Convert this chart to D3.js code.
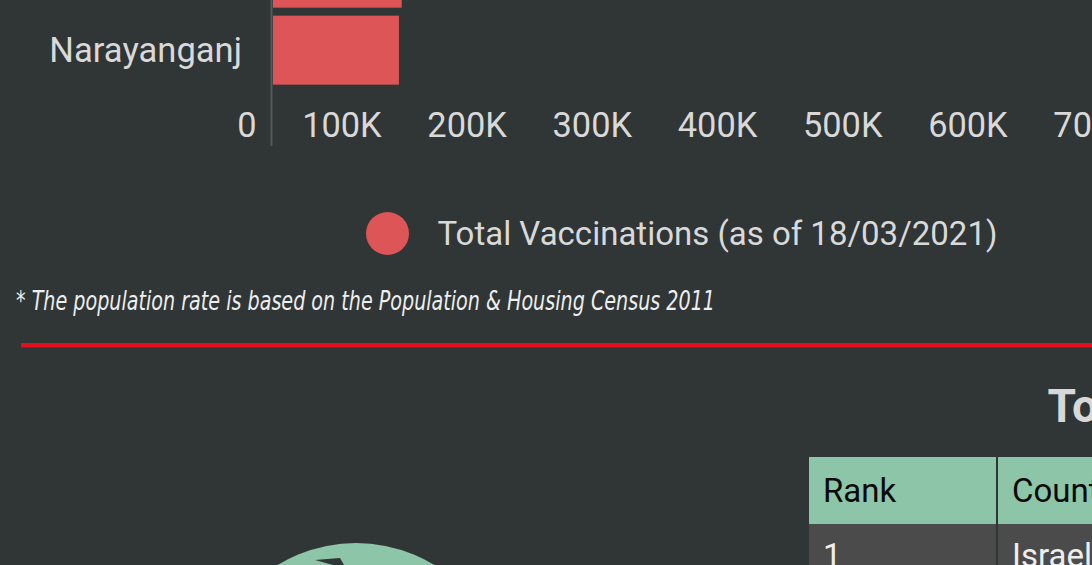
<!DOCTYPE html>
<html>
<head>
<meta charset="utf-8">
<script src="https://cdn.jsdelivr.net/npm/d3@7"></script>
<style>
  html, body { margin: 0; padding: 0; background: #303536; overflow: hidden; }
  svg { display: block; }
  text { font-family: Roboto, "Noto Sans", sans-serif; }
</style>
</head>
<body>
<svg id="page" width="1092" height="565"></svg>
<script>

// district bars (only the last two are in view)
const districts     = ['Gazipur', 'Narayanganj'];
const vaccinations  = [102800, 100600];
const xTicks        = [0, 100000, 200000, 300000, 400000, 500000, 600000, 700000];
const legendLabel   = 'Total Vaccinations (as of 18/03/2021)';
const footnote      = '* The population rate is based on the Population & Housing Census 2011';

// table below the divider
const tableTitle    = 'Top 10 Countries by Total Vaccinations';
const tableHeaders  = ['Rank', 'Country'];
const tableRanks    = [1];
const tableCountries = ['Israel'];

const BAR    = '#dd5557';
const MINT   = '#8dc5a8';
const LABEL  = '#d9d9d9';


const svg = d3.select('#page');

const data = districts.map((d, i) => ({district: d, value: vaccinations[i]}));

const xScale = d3.scaleLinear()
  .domain([0, 800000])
  .range([273, 273 + 8 * 125.2]);

const yScale = d3.scaleBand()
  .domain(districts)
  .range([-65.15, 88.5])
  .paddingInner(0.104)
  .paddingOuter(0.05);

// bars
svg.append('g').selectAll('rect').data(data)
  .enter().append('rect')
    .attr('x', xScale(0))
    .attr('y', d => yScale(d.district))
    .attr('width', d => xScale(d.value) - xScale(0))
    .attr('height', yScale.bandwidth())
    .attr('fill', BAR);

// category axis
const yAxisG = svg.append('g')
  .attr('transform', `translate(${xScale(0) - 1},0)`)
  .call(d3.axisLeft(yScale).tickSize(0).tickPadding(30));
yAxisG.select('.domain').remove();
yAxisG.selectAll('text')
  .attr('fill', LABEL)
  .attr('font-size', 34.6)
  .attr('dy', '0.35em');

// axis line
svg.append('line')
  .attr('x1', 271.5).attr('x2', 271.5)
  .attr('y1', -10).attr('y2', 146)
  .attr('stroke', '#55595c')
  .attr('stroke-width', 2);

// value axis
const xFormat = v => v === 0 ? '0' : d3.format('~s')(v).replace('k', 'K');
const xAxisG = svg.append('g')
  .attr('transform', 'translate(0,137)')
  .call(d3.axisBottom(xScale).tickValues(xTicks).tickFormat(xFormat).tickSize(0));
xAxisG.select('.domain').remove();
xAxisG.selectAll('text')
  .attr('fill', LABEL)
  .attr('font-size', 34.4)
  .attr('text-anchor', 'end')
  .attr('x', -17)
  .attr('y', 0)
  .attr('dy', 0);

// legend
const legend = svg.append('g').attr('transform', 'translate(387.5,233.5)');
legend.append('circle').attr('r', 21.5).attr('fill', BAR);
legend.append('text')
  .attr('x', 50)
  .attr('y', 11.5)
  .attr('fill', LABEL)
  .attr('font-size', 33)
  .text(legendLabel);

// footnote
svg.append('text')
  .attr('x', 16)
  .attr('y', 310)
  .attr('fill', '#eeeeee')
  .attr('font-size', 26)
  .attr('font-style', 'italic')
  .attr('textLength', 699)
  .attr('lengthAdjust', 'spacingAndGlyphs')
  .style('font-family', '"Liberation Sans Narrow", "DejaVu Sans Condensed", "Open Sans", sans-serif')
  .style('font-stretch', 'condensed')
  .text(footnote);

// red divider
svg.append('rect')
  .attr('x', 21).attr('y', 343)
  .attr('width', 1200).attr('height', 4.5)
  .attr('fill', '#e1101b');

// table title
svg.append('text')
  .attr('x', 1047.5)
  .attr('y', 421.5)
  .attr('fill', '#d8d8d8')
  .attr('font-size', 46)
  .attr('font-weight', 'bold')
  .text(tableTitle);

// table
const colX   = [809, 998];
const colW   = [187, 400];
const table  = svg.append('g');

table.selectAll('rect.head').data(tableHeaders)
  .enter().append('rect')
    .attr('class', 'head')
    .attr('x', (d, i) => colX[i]).attr('y', 457)
    .attr('width', (d, i) => colW[i]).attr('height', 67)
    .attr('fill', MINT);

table.selectAll('text.head').data(tableHeaders)
  .enter().append('text')
    .attr('class', 'head')
    .attr('x', (d, i) => colX[i] + 14).attr('y', 501.5)
    .attr('fill', '#0a0a0a')
    .attr('font-size', 33)
    .text(d => d);

const rows = tableRanks.map((r, i) => [String(r), tableCountries[i]]);
rows.forEach((row, ri) => {
  const y0 = 524 + ri * 67;
  table.selectAll(null).data(row)
    .enter().append('rect')
      .attr('x', (d, i) => colX[i]).attr('y', y0)
      .attr('width', (d, i) => colW[i]).attr('height', 67)
      .attr('fill', '#4b4b4b');
  table.selectAll(null).data(row)
    .enter().append('text')
      .attr('x', (d, i) => colX[i] + 14).attr('y', y0 + 43)
      .attr('fill', '#eeeeee')
      .attr('font-size', 33)
      .text(d => d);
});

// globe icon (top of it)
svg.append('circle')
  .attr('cx', 356).attr('cy', 694).attr('r', 151)
  .attr('fill', MINT);
svg.append('path')
  .attr('d', 'M315,560 L340,558 L344,565 L333,565 Z')
  .attr('fill', '#303536');

</script>
</body>
</html>
